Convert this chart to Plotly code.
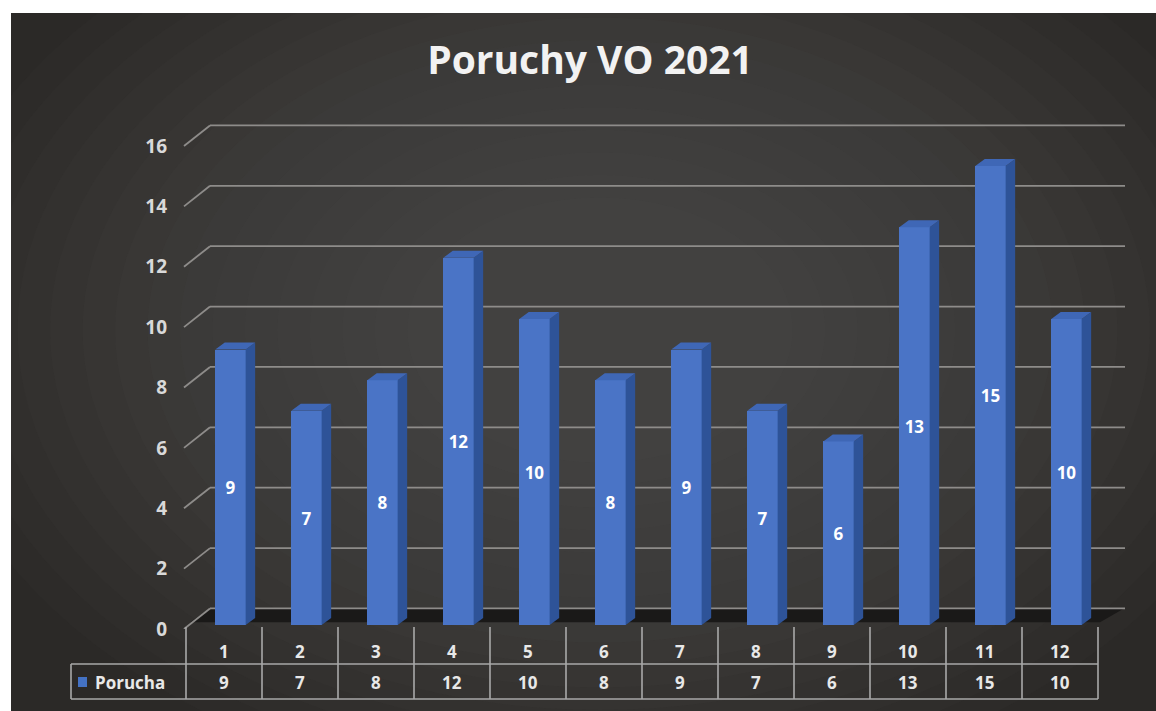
import plotly.graph_objects as go

# ---------------- data ----------------
months = [1, 2, 3, 4, 5, 6, 7, 8, 9, 10, 11, 12]
poruchy = [9, 7, 8, 12, 10, 8, 9, 7, 6, 13, 15, 10]
series_name = "Porucha"
title_text = "Poruchy VO 2021"
y_ticks = [0, 2, 4, 6, 8, 10, 12, 14, 16]

# ---------------- geometry (pixels) ----------------
W, H = 1156, 711
L, R, T, B = 168, 26, 120, 82          # margins -> plot area x 168..1130, y 120..629
PW, PH = W - L - R, H - T - B
COL = 76.0                              # px per category
X0PX = 148.0                            # px of category 0
FRONT_K = 30.19                         # px per unit (front / tick scale)
BAR_ZERO_PX, BAR_K = 625.0, 30.6        # bar baseline and scale
BACK_OFF = 0.68                         # back-wall offset in front units

x_range = [(L - X0PX) / COL, (W - R - X0PX) / COL]
y_range = [0, PH / FRONT_K]
y2_range = [(BAR_ZERO_PX - (T + PH)) / BAR_K, (BAR_ZERO_PX - T) / BAR_K]


def px2x(px):
    return (px - X0PX) / COL


def pxx2paper(px):
    return (px - L) / PW


def pxy2paper(py):
    return (T + PH - py) / PH


BAR_W, BAR_OFF = 0.40, -0.115
DX, DY = 9.5 / COL, 7.0 / BAR_K

FRONT = "#4a74c6"
SIDE = "#2e5398"
TOP = "#3f67b6"
GRID = "#8e8c8a"
TXT = "#e8e8e8"
FONT = "Open Sans"

fig = go.Figure()

# front faces
fig.add_trace(go.Bar(
    x=months, y=poruchy, yaxis="y2", width=BAR_W, offset=BAR_OFF,
    marker=dict(color=FRONT, line=dict(width=0)),
    text=[str(v) for v in poruchy], textposition="inside", insidetextanchor="middle",
    textfont=dict(color="#ffffff", size=17, family=FONT, weight="bold"), textangle=0,
    showlegend=False, hoverinfo="skip", name=series_name,
))

# side and top faces
sx, sy, tx, ty = [], [], [], []
for c, v in zip(months, poruchy):
    xl = c + BAR_OFF
    xr = xl + BAR_W
    sx += [xr, xr + DX, xr + DX, xr, xr, None]
    sy += [0, DY, v + DY, v, 0, None]
    tx += [xl, xr, xr + DX, xl + DX, xl, None]
    ty += [v, v, v + DY, v + DY, v, None]
fig.add_trace(go.Scatter(x=sx, y=sy, yaxis="y2", mode="lines", fill="toself",
                         fillcolor=SIDE, line=dict(width=0, color=SIDE),
                         showlegend=False, hoverinfo="skip"))
fig.add_trace(go.Scatter(x=tx, y=ty, yaxis="y2", mode="lines", fill="toself",
                         fillcolor=TOP, line=dict(width=0, color=TOP),
                         showlegend=False, hoverinfo="skip"))

shapes = []
# background panel with soft radial glow
shapes.append(dict(type="rect", xref="paper", yref="paper", layer="below",
                   x0=pxx2paper(11), x1=pxx2paper(W + 5), y0=pxy2paper(H + 5), y1=pxy2paper(13),
                   fillcolor="#2b2927", line=dict(width=0)))
cx, cy = 600, 330
n_rings = 16
for i in range(n_rings):
    f = 1 - i / n_rings
    rx, ry = 160 + 520 * f, 110 + 360 * f
    shapes.append(dict(type="circle", xref="paper", yref="paper", layer="below",
                       x0=pxx2paper(cx - rx), x1=pxx2paper(cx + rx),
                       y0=pxy2paper(cy + ry), y1=pxy2paper(cy - ry),
                       fillcolor="rgba(125,120,116,0.035)", line=dict(width=0)))
# white page border (top / left strips)
shapes.append(dict(type="rect", xref="paper", yref="paper", layer="below",
                   x0=pxx2paper(-5), x1=pxx2paper(W + 5), y0=pxy2paper(13), y1=pxy2paper(-5),
                   fillcolor="#ffffff", line=dict(width=0)))
shapes.append(dict(type="rect", xref="paper", yref="paper", layer="below",
                   x0=pxx2paper(-5), x1=pxx2paper(11), y0=pxy2paper(H + 5), y1=pxy2paper(-5),
                   fillcolor="#ffffff", line=dict(width=0)))

# floor shadow
shapes.append(dict(type="path", xref="x", yref="y", layer="below",
                   path="M {a},{b} L {c},{d} L {e},{d} L {f},{b} Z".format(
                       a=px2x(190), b=0.22, c=px2x(210), d=BACK_OFF, e=px2x(1124), f=px2x(1100)),
                   fillcolor="#1a1918", line=dict(width=0)))

# gridlines: front stub + back wall line
for t in y_ticks:
    shapes.append(dict(type="line", xref="x", yref="y", layer="below",
                       x0=px2x(184), y0=t, x1=px2x(210), y1=t + BACK_OFF,
                       line=dict(color=GRID, width=1.8)))
    shapes.append(dict(type="line", xref="x", yref="y", layer="below",
                       x0=px2x(210), y0=t + BACK_OFF, x1=px2x(1125), y1=t + BACK_OFF,
                       line=dict(color=GRID, width=1.8)))

# data table
TL = "#a9a9a9"
col_edges = [X0PX + COL * (m - 0.5) for m in months] + [X0PX + COL * (months[-1] + 0.5)]
for px in col_edges:
    shapes.append(dict(type="line", xref="paper", yref="paper",
                       x0=pxx2paper(px), x1=pxx2paper(px), y0=pxy2paper(627), y1=pxy2paper(699),
                       line=dict(color=TL, width=1.6)))
for py in (664, 699):
    shapes.append(dict(type="line", xref="paper", yref="paper",
                       x0=pxx2paper(71), x1=pxx2paper(col_edges[-1]), y0=pxy2paper(py), y1=pxy2paper(py),
                       line=dict(color=TL, width=1.6)))
shapes.append(dict(type="line", xref="paper", yref="paper",
                   x0=pxx2paper(71), x1=pxx2paper(71), y0=pxy2paper(664), y1=pxy2paper(699),
                   line=dict(color=TL, width=1.6)))
# legend key
shapes.append(dict(type="rect", xref="paper", yref="paper",
                   x0=pxx2paper(78), x1=pxx2paper(87), y0=pxy2paper(687), y1=pxy2paper(677),
                   fillcolor="#4472c4", line=dict(width=0)))

TFONT = dict(family=FONT, size=17, color=TXT, weight="bold")
annotations = []
for m, v in zip(months, poruchy):
    cxp = pxx2paper(X0PX + COL * m)
    annotations.append(dict(xref="paper", yref="paper", x=cxp, y=pxy2paper(651), text=str(m),
                            showarrow=False, xanchor="center", yanchor="middle", font=TFONT))
    annotations.append(dict(xref="paper", yref="paper", x=cxp, y=pxy2paper(682), text=str(v),
                            showarrow=False, xanchor="center", yanchor="middle", font=TFONT))
annotations.append(dict(xref="paper", yref="paper", x=pxx2paper(93), y=pxy2paper(682), text=series_name,
                        showarrow=False, xanchor="left", yanchor="middle", font=TFONT))

fig.update_layout(
    width=W, height=H,
    margin=dict(l=L, r=R, t=T, b=B, pad=0),
    paper_bgcolor="#ffffff",
    plot_bgcolor="rgba(0,0,0,0)",
    title=dict(text="<b>" + title_text + "</b>", x=590 / W, xanchor="center",
               y=1 - 60 / H, yanchor="middle", yref="container",
               font=dict(family=FONT, size=39, color="#f2f2f2")),
    xaxis=dict(range=x_range, showgrid=False, zeroline=False, showticklabels=False,
               showline=False, ticks="", fixedrange=True),
    yaxis=dict(range=y_range, tickvals=y_ticks, showgrid=False, zeroline=False, showline=False,
               ticks="", tickfont=dict(family=FONT, size=19, color="#d9d9d9", weight="bold"),
               fixedrange=True),
    yaxis2=dict(range=y2_range, overlaying="y", showgrid=False, zeroline=False,
                showticklabels=False, showline=False, ticks="", fixedrange=True),
    shapes=shapes,
    annotations=annotations,
    showlegend=False,
    bargap=0,
)

fig.write_html("out.html", config={"displayModeBar": False},
               post_script="document.body.style.margin='0px';")
